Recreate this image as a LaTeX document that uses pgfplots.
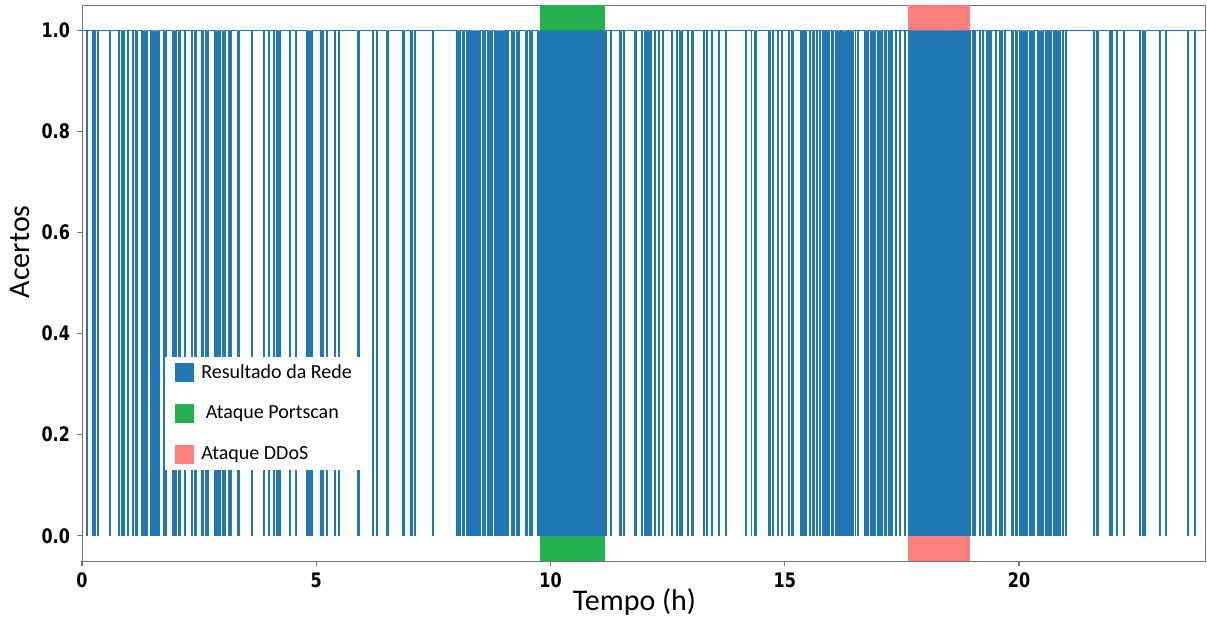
\documentclass[border=0pt]{standalone}
\usepackage{pgfplots}
\pgfplotsset{compat=1.18}
\usepackage{fontspec}
\setmainfont{Carlito}
\newfontfamily\tickfont{DejaVu Sans}[FakeStretch=0.8]

\definecolor{mplblue}{RGB}{31,119,180}
\definecolor{scangreen}{RGB}{34,177,76}
\definecolor{ddosred}{RGB}{255,127,127}

\begin{document}
\begin{tikzpicture}
\begin{axis}[
    width=561.5pt, height=278pt, scale only axis,
    xmin=0, xmax=23.97, ymin=-0.05, ymax=1.05,
    xtick={0,5,10,15,20},
    ytick={0,0.2,0.4,0.6,0.8,1.0},
    tick align=outside, tick pos=left,
    major tick length=2.5pt,
    axis line style={black!55},
    tick style={black!55, line width=0.6pt},
    /pgf/number format/assume math mode=true,
    ticklabel style={font=\tickfont\bfseries\fontsize{10}{12}\selectfont},
    yticklabel style={/pgf/number format/.cd, fixed, fixed zerofill, precision=1},
    xlabel={Tempo (h)}, ylabel={Acertos},
    label style={font=\fontsize{15}{18}\selectfont, inner sep=0pt},
    xlabel style={at={(axis description cs:0.492,0)}, anchor=center, yshift=-20.5pt},
    ylabel style={at={(axis description cs:0,0.556)}, anchor=center, yshift=31pt},
    legend image code/.code={\fill[#1, draw=none] (0pt,-4.75pt) rectangle (9.5pt,4.75pt);},
    legend style={at={(axis cs:1.77,0.354)}, anchor=north west, draw=none, fill=white,
        font=\fontsize{10}{12}\selectfont, row sep=10.5pt, column sep=2.5pt,
        inner xsep=5pt, inner ysep=2.5pt, nodes={inner sep=1pt}},
    legend cell align=left,
]

% attack windows
\addplot[fill=scangreen, draw=none, forget plot] coordinates
    {(9.78,-0.05) (9.78,1.05) (11.16,1.05) (11.16,-0.05)};
\addplot[fill=ddosred, draw=none, forget plot] coordinates
    {(17.64,-0.05) (17.64,1.05) (18.95,1.05) (18.95,-0.05)};

% network result: 1 = hit, 0 = miss (step changes)
\addplot[const plot, draw=mplblue, fill=mplblue, line width=0.5pt, forget plot] coordinates {
(0,1)
(0.10,0) (0.12,1) (0.22,0) (0.24,1) (0.26,0) (0.28,1) (0.34,0) (0.36,1) (0.59,0) (0.61,1)
(0.78,0) (0.80,1) (0.85,0) (0.91,1) (0.97,0) (0.99,1) (1.08,0) (1.10,1)
(1.15,0) (1.19,1) (1.28,0) (1.40,1) (1.47,0) (1.65,1) (1.73,0) (1.80,1)
(1.94,0) (2.02,1) (2.07,0) (2.10,1) (2.18,0) (2.21,1) (2.33,0) (2.36,1)
(2.41,0) (2.44,1) (2.56,0) (2.59,1) (2.63,0) (2.70,1) (2.82,0) (2.96,1)
(3.00,0) (3.06,1) (3.12,0) (3.19,1) (3.31,0) (3.36,1) (3.61,0) (3.64,1)
(3.87,0) (3.89,1) (3.98,0) (4.00,1) (4.08,0) (4.10,1) (4.16,0) (4.24,1)
(4.42,0) (4.45,1) (4.56,0) (4.58,1) (4.80,0) (4.92,1) (5.10,0) (5.16,1)
(5.22,0) (5.24,1) (5.39,0) (5.41,1) (5.48,0) (5.50,1) (5.87,0) (5.92,1)
(6.19,0) (6.22,1) (6.28,0) (6.31,1) (6.51,0) (6.54,1) (6.85,0) (6.88,1)
(7.02,0) (7.05,1) (7.09,0) (7.11,1) (7.49,0) (7.51,1)
(8.00,0) (8.08,1) (8.12,0) (8.16,1) (8.20,0) (8.24,1) (8.28,0) (8.51,1)
(8.55,0) (8.62,1) (8.66,0) (8.76,1) (8.80,0) (9.03,1) (9.07,0) (9.10,1)
(9.17,0) (9.23,1) (9.27,0) (9.34,1) (9.46,0) (9.51,1) (9.55,0) (9.62,1)
(9.72,0) (11.20,1)
(11.27,0) (11.30,1) (11.48,0) (11.51,1) (11.55,0) (11.58,1) (11.80,0) (11.84,1)
(11.94,0) (11.97,1) (12.01,0) (12.06,1) (12.10,0) (12.16,1) (12.22,0) (12.25,1)
(12.31,0) (12.33,1) (12.38,0) (12.41,1) (12.58,0) (12.61,1) (12.68,0) (12.72,1)
(12.76,0) (12.81,1) (12.92,0) (12.95,1) (13.00,0) (13.06,1) (13.27,0) (13.29,1)
(13.33,0) (13.35,1) (13.44,0) (13.46,1) (13.59,0) (13.61,1) (13.74,0) (13.76,1)
(14.16,0) (14.18,1) (14.28,0) (14.30,1) (14.35,0) (14.39,1) (14.66,0) (14.69,1)
(14.73,0) (14.75,1) (14.85,0) (14.87,1) (14.93,0) (14.95,1) (15.07,0) (15.10,1)
(15.15,0) (15.18,1) (15.33,0) (15.39,1) (15.43,0) (15.47,1) (15.53,0) (15.55,1)
(15.60,0) (15.64,1) (15.68,0) (15.70,1) (15.74,0) (15.76,1) (15.81,0) (15.86,1)
(15.90,0) (15.96,1) (16.00,0) (16.03,1) (16.08,0) (16.18,1) (16.22,0) (16.33,1)
(16.37,0) (16.46,1) (16.50,0) (16.52,1) (16.55,0) (16.58,1) (16.71,0) (16.78,1)
(16.82,0) (16.94,1) (16.98,0) (17.08,1) (17.12,0) (17.17,1) (17.22,0) (17.25,1)
(17.28,0) (17.31,1) (17.36,0) (17.39,1) (17.44,0) (17.47,1) (17.56,0) (17.58,1)
(17.65,0) (18.96,1)
(19.00,0) (19.02,1) (19.06,0) (19.08,1) (19.15,0) (19.18,1) (19.22,0) (19.25,1)
(19.30,0) (19.34,1) (19.38,0) (19.42,1) (19.50,0) (19.52,1) (19.59,0) (19.64,1)
(19.68,0) (19.72,1) (19.84,0) (19.89,1) (19.93,0) (19.96,1) (20.02,0) (20.18,1)
(20.22,0) (20.34,1) (20.40,0) (20.52,1) (20.56,0) (20.60,1) (20.64,0) (20.70,1)
(20.74,0) (20.77,1) (20.81,0) (20.88,1) (20.92,0) (20.95,1) (20.99,0) (21.02,1)
(21.60,0) (21.62,1) (21.66,0) (21.69,1) (21.94,0) (21.96,1) (21.98,0) (22.00,1)
(22.08,0) (22.10,1) (22.23,0) (22.25,1) (22.58,0) (22.60,1) (22.64,0) (22.69,1)
(23.00,0) (23.02,1) (23.13,0) (23.15,1) (23.60,0) (23.62,1) (23.75,0) (23.77,1)
(23.97,1)
};

\addlegendimage{fill=mplblue}
\addlegendentry{Resultado da Rede}
\addlegendimage{fill=scangreen}
\addlegendentry{\ Ataque Portscan}
\addlegendimage{fill=ddosred}
\addlegendentry{Ataque DDoS}
\end{axis}
\pgfresetboundingbox
\path ([xshift=-41pt,yshift=-30pt]current axis.south west)
    rectangle ([xshift=1pt,yshift=2.5pt]current axis.north east);
\end{tikzpicture}
\end{document}
